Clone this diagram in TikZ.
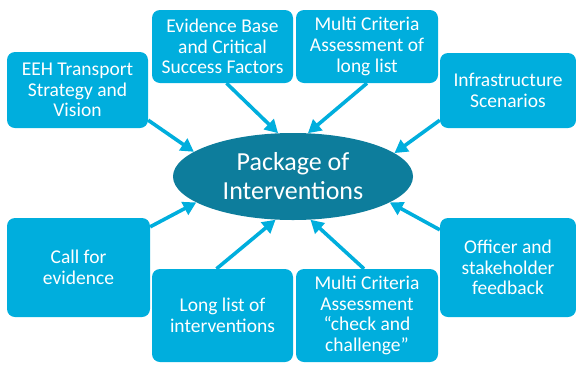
\documentclass[tikz,border=0pt]{standalone}
\usepackage{fontspec}
\setmainfont{Carlito}
\usetikzlibrary{arrows.meta,shapes.geometric,calc}
\definecolor{boxblue}{HTML}{00AEDD}
\definecolor{ellblue}{HTML}{0D7D9C}
\tikzset{
  box/.style={draw=none,fill=boxblue,rounded corners=8pt,text=white,align=center,
    font=\fontsize{19.5}{20.7}\selectfont,inner sep=0pt},
  centre/.style={ellipse,fill=ellblue,text=white,align=center,inner sep=0pt,
    minimum width=240pt,minimum height=87pt,font=\fontsize{26}{29}\selectfont},
  arr/.style={draw=boxblue,line width=3.6pt,-{Triangle[length=13pt,width=14pt]}}
}
\begin{document}
\begin{tikzpicture}[x=1pt,y=-1pt]
\useasboundingbox (0,0) rectangle (576,365);
\node[centre] (pk) at (293,176.5) {Package of\\Interventions};
\node[box,minimum width=141pt,minimum height=76pt] (b1) at (77.5,90) {EEH Transport\\Strategy and\\Vision};
\node[box,minimum width=141pt,minimum height=73pt] (b2) at (222.5,46.5) {Evidence Base\\and Critical\\Success Factors};
\node[box,minimum width=142pt,minimum height=73pt] (b3) at (367,46.5) {Multi Criteria\\Assessment of\\long list};
\node[box,minimum width=136pt,minimum height=75pt] (b4) at (508,90.5) {Infrastructure\\Scenarios};
\node[box,minimum width=143pt,minimum height=99pt] (b5) at (78.5,267.5) {Call for\\evidence};
\node[box,minimum width=141pt,minimum height=93pt] (b6) at (222.5,315.5) {Long list of\\interventions};
\node[box,minimum width=142pt,minimum height=93pt] (b7) at (367,315.5) {Multi Criteria\\Assessment\\“check and\\challenge”};
\node[box,minimum width=136pt,minimum height=99pt] (b8) at (508,267.5) {Officer and\\stakeholder\\feedback};
\draw[arr] ($(b1.south east)+(0,-8)$) -- (pk.166);
\draw[arr] ($(b2.south)+(4,0)$) -- (pk.109);
\draw[arr] (b3.south) -- (pk.71);
\draw[arr] ($(b4.south west)+(0,-8)$) -- (pk.13);
\draw[arr] ($(b5.north east)+(0,9)$) -- (pk.195);
\draw[arr] ($(b6.north)+(-6,0)$) -- (pk.248);
\draw[arr] ($(b7.north)+(-3,0)$) -- (pk.292);
\draw[arr] ($(b8.north west)+(0,12)$) -- (pk.345);
\end{tikzpicture}
\end{document}
